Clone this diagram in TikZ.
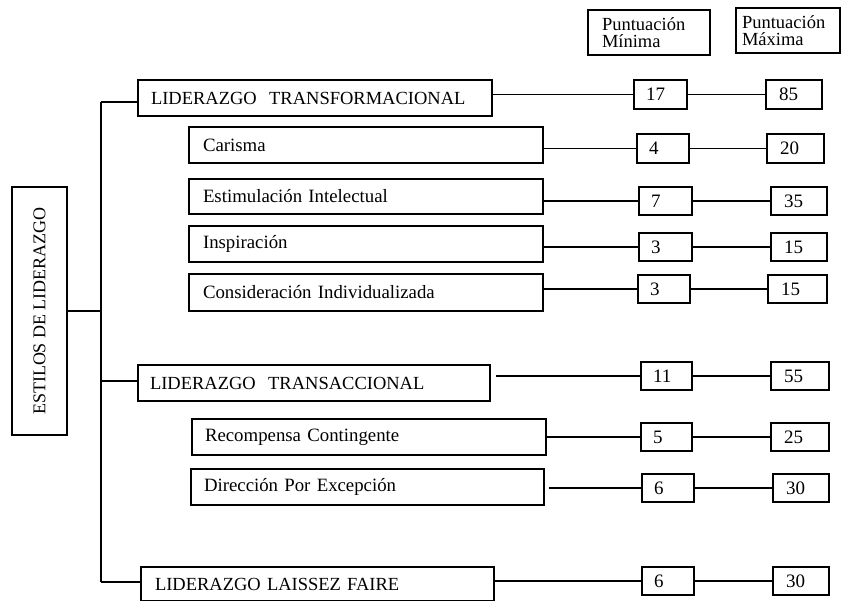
\documentclass[tikz,border=0pt]{standalone}
\usepackage{fontspec}
\setmainfont{Liberation Serif}
\newcommand{\hdfont}{\fontsize{18.5}{17.5}\selectfont\lineskiplimit=-100pt\relax\lineskip=0pt\relax}
\tikzset{
  bx/.style={draw, line width=1.6pt, inner xsep=0pt, inner ysep=0pt, align=left},
  conn/.style={line width=1.2pt},
  bigf/.style={font=\fontsize{18.5}{20}\selectfont},
  smallf/.style={font=\fontsize{18.8}{20}\selectfont},
  numf/.style={font=\fontsize{19}{20}\selectfont},
  headf/.style={font=\hdfont},
}
% \mybox{name}{x1}{y1}{x2}{y2}{pad}{style}{text}
\newcommand{\mybox}[8]{%
  \pgfmathsetmacro{\bw}{#4-#2}%
  \pgfmathsetmacro{\bh}{#5-#3}%
  \pgfmathsetmacro{\tw}{#4-#2-2*#6}%
  \node[bx,#7,minimum width=\bw pt,minimum height=\bh pt,text width=\tw pt]
    (#1) at ({(#2+#4)/2},{(#3+#5)/2}) {#8};%
}
\begin{document}
\begin{tikzpicture}[x=1pt,y=-1pt]
\clip (0,0) rectangle (846,600);
\fill[white] (0,0) rectangle (846,600);

% headers
\mybox{hmin}{588}{10}{710}{55}{14}{headf}{Puntuación\\Mínima}
\mybox{hmax}{736}{8}{840}{53}{6}{headf}{Puntuación\\Máxima}

% root
\node[bx, minimum width=248pt, minimum height=55pt, rotate=90, align=center,
  font=\fontsize{18}{20}\selectfont] (est) at (39.5,311) {ESTILOS DE LIDERAZGO};

% level 1 / level 2 boxes
\mybox{tf}{138}{80}{492}{116}{13}{bigf}{LIDERAZGO\ \ TRANSFORMACIONAL}
\mybox{car}{189}{127}{543}{163}{14}{smallf}{Carisma}
\mybox{esti}{189}{179}{543}{214}{14}{smallf}{Estimulación Intelectual}
\mybox{insp}{189}{226}{543}{262}{14}{smallf}{Inspiración}
\mybox{cons}{189}{274}{543}{311}{14}{smallf}{Consideración Individualizada}
\mybox{tc}{138}{365}{490}{401}{12}{bigf}{LIDERAZGO\ \ TRANSACCIONAL}
\mybox{rec}{192}{419}{546}{455}{13}{smallf}{Recompensa Contingente}
\mybox{dir}{191}{469}{544}{505}{13}{smallf}{Dirección Por Excepción}
\mybox{lf}{141}{567}{494}{601}{14}{bigf}{LIDERAZGO LAISSEZ FAIRE}

% numbers
\mybox{n17}{634}{80}{687}{109}{12}{numf}{17}
\mybox{n85}{766}{80}{822}{109}{13}{numf}{85}
\mybox{n4}{637}{134}{689}{163}{12}{numf}{4}
\mybox{n20}{767}{134}{824}{163}{13}{numf}{20}
\mybox{n7}{639}{187}{692}{215}{12}{numf}{7}
\mybox{n35}{771}{187}{827}{215}{13}{numf}{35}
\mybox{n3a}{639}{233}{692}{261}{12}{numf}{3}
\mybox{n15a}{771}{233}{827}{261}{13}{numf}{15}
\mybox{n3b}{638}{275}{690}{303}{12}{numf}{3}
\mybox{n15b}{768}{275}{827}{303}{13}{numf}{15}
\mybox{n11}{641}{362}{692}{390}{12}{numf}{11}
\mybox{n55}{771}{362}{829}{390}{13}{numf}{55}
\mybox{n5}{641}{423}{692}{451}{12}{numf}{5}
\mybox{n25}{771}{423}{829}{451}{13}{numf}{25}
\mybox{n6a}{642}{474}{694}{502}{12}{numf}{6}
\mybox{n30a}{773}{474}{829}{502}{13}{numf}{30}
\mybox{n6b}{642}{567}{694}{595}{12}{numf}{6}
\mybox{n30b}{773}{567}{829}{595}{13}{numf}{30}

% tree
\coordinate (tk1) at (101,102);
\coordinate (tk2) at (101,582);
\coordinate (tkr) at (101,311);
\coordinate (tkt) at (101,381);
\draw[conn] (tk1) -- (tk2);
\draw[conn] (tk1) -- (tf.west |- tk1);
\draw[conn] (est.south) -- (tkr);
\draw[conn] (tkt) -- (tc.west |- tkt);
\draw[conn] (tk2) -- (lf.west |- tk2);

% row connectors
\foreach \b/\c in {n17/n85, n4/n20, n7/n35, n3a/n15a, n3b/n15b,
  n11/n55, n5/n25, n6a/n30a, n6b/n30b}{
  \draw[conn] (\b.east) -- (\c.west |- \b.east);
}
\draw[conn] (tf.east |- n17.west) -- (n17.west);
\draw[conn] (car.east |- n4.west) -- (n4.west);
\draw[conn] (esti.east |- n7.west) -- (n7.west);
\draw[conn] (insp.east |- n3a.west) -- (n3a.west);
\draw[conn] (cons.east |- n3b.west) -- (n3b.west);
\draw[conn] ([xshift=5pt]tc.east |- n11.west) -- (n11.west);
\draw[conn] (rec.east |- n5.west) -- (n5.west);
\draw[conn] ([xshift=4pt]dir.east |- n6a.west) -- (n6a.west);
\draw[conn] (lf.east |- n6b.west) -- (n6b.west);
\end{tikzpicture}
\end{document}
